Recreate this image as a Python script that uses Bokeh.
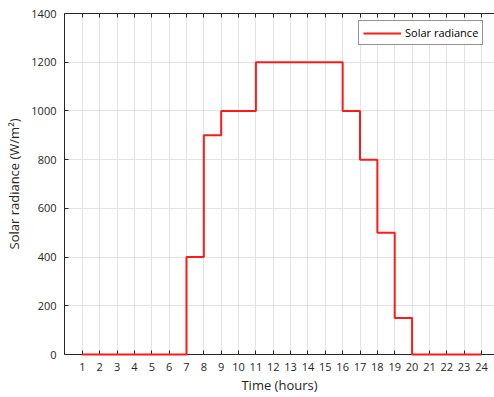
from bokeh.plotting import figure
from bokeh.models import LinearAxis, FixedTicker, Range1d, Legend, LegendItem
from bokeh.embed import file_html
from bokeh.resources import INLINE

hours = list(range(1, 25))
radiance = [0, 0, 0, 0, 0, 0, 400, 900, 1000, 1000, 1200, 1200,
            1200, 1200, 1200, 1000, 800, 500, 150, 0, 0, 0, 0, 0]
x_ticks = list(range(1, 25))
y_ticks = [0, 200, 400, 600, 800, 1000, 1200, 1400]

FONT = "Open Sans"
AX = "#262626"

p = figure(width=494, height=397, output_backend="svg", toolbar_location=None,
           x_range=Range1d(-0.03, 24.75), y_range=Range1d(0, 1400),
           min_border_left=64, min_border_right=0, min_border_top=13,
           min_border_bottom=43, outline_line_color=None,
           background_fill_color="white", border_fill_color="white")

r = p.step(hours, radiance, mode="after", line_color="#ff1a1a", line_width=2)
r.level = "overlay"

for ax in (p.xaxis[0], p.yaxis[0]):
    ax.axis_line_color = AX
    ax.major_tick_line_color = AX
    ax.major_tick_in = 4
    ax.major_tick_out = 0
    ax.minor_tick_line_color = None
    ax.major_label_text_font = FONT
    ax.major_label_text_font_size = "11px"
    ax.major_label_text_color = AX
    ax.axis_label_text_font = FONT
    ax.axis_label_text_font_size = "13px"
    ax.axis_label_text_font_style = "normal"
    ax.axis_label_text_color = AX

p.xaxis.ticker = FixedTicker(ticks=x_ticks)
p.yaxis.ticker = FixedTicker(ticks=y_ticks)
p.xaxis.axis_label = "Time (hours)"
p.yaxis.axis_label = "Solar radiance (W/m²)"
p.xaxis.major_label_standoff = 8
p.yaxis.major_label_standoff = 8
p.xaxis.axis_label_standoff = 2
p.yaxis.axis_label_standoff = 5

top = LinearAxis(ticker=FixedTicker(ticks=x_ticks), axis_line_color=AX,
                 major_tick_line_color=AX, major_tick_in=4, major_tick_out=0,
                 minor_tick_line_color=None, major_label_text_font_size="0px",
                 major_label_text_color=None)
p.add_layout(top, "above")

p.xgrid.ticker = FixedTicker(ticks=x_ticks)
p.ygrid.ticker = FixedTicker(ticks=y_ticks)
p.grid.grid_line_color = "#e3e3e3"
p.grid.grid_line_width = 1

legend = Legend(items=[LegendItem(label="Solar radiance", renderers=[r])],
                location=(294, 309), orientation="vertical")
legend.border_line_color = AX
legend.border_line_width = 1
legend.background_fill_color = "white"
legend.background_fill_alpha = 1
legend.label_text_font = FONT
legend.label_text_font_size = "11px"
legend.label_text_color = "#000000"
legend.glyph_width = 38
legend.glyph_height = 14
legend.padding = 4
legend.margin = 0
legend.spacing = 0
legend.label_standoff = 4
p.add_layout(legend, "center")

open("out.html", "w").write(file_html(p, INLINE))
